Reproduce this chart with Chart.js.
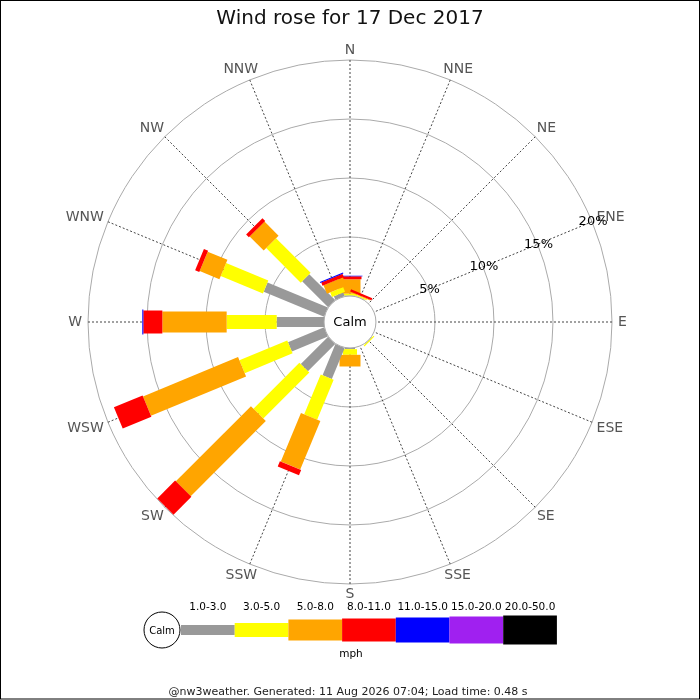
<!DOCTYPE html>
<html lang="en">
<head>
    <meta charset="UTF-8">
    <title>Wind rose for 17 Dec 2017</title>
    <script src="https://cdn.jsdelivr.net/npm/chart.js"></script>
</head>
<style>
    body {
        margin: 0;
        padding: 0;
        background-color: #FFF;
    }

    .caixa_rosa {
        width: 700px;
        height: 700px;
        position: relative;
    }
</style>
<body>
    <div class="caixa_rosa">
        <canvas id="graficoRosa" width="700" height="700"></canvas>
    </div>

<script>
    // direcoes no sentido horario a partir do N
    const direcoes = ['N', 'NNE', 'NE', 'ENE', 'E', 'ESE', 'SE', 'SSE', 'S', 'SSW', 'SW', 'WSW', 'W', 'WNW', 'NW', 'NNW'];
    const faixas = ['1.0-3.0', '3.0-5.0', '5.0-8.0', '8.0-11.0', '11.0-15.0', '15.0-20.0', '20.0-50.0'];
    const ticksPct = [5, 10, 15, 20];

    // % do tempo por direcao, uma lista por faixa de velocidade (mph)
    const vel_1_3   = [0.05, 0.03, 0, 0, 0, 0, 0.03, 0, 0.10, 2.85, 3.27, 3.31, 4.01, 5.54, 3.11, 0.34];
    const vel_3_5   = [0.15, 0.10, 0, 0, 0, 0, 0.10, 0, 0.48, 3.66, 5.51, 4.39, 4.24, 3.87, 4.14, 0.42];
    const vel_5_8   = [1.22, 0.07, 0, 0, 0, 0, 0, 0, 0.99, 4.46, 9.00, 8.72, 5.45, 1.81, 1.69, 0.77];
    const vel_8_11  = [0.25, 0.19, 0, 0, 0, 0, 0, 0, 0, 0.48, 2.14, 2.63, 1.61, 0.38, 0.33, 0.29];
    const vel_11_15 = [0.05, 0, 0, 0, 0, 0, 0, 0, 0, 0, 0, 0, 0.09, 0, 0, 0.09];
    const vel_15_20 = [0, 0, 0, 0, 0, 0, 0, 0, 0, 0, 0, 0, 0, 0, 0, 0];
    const vel_20_50 = [0, 0, 0, 0, 0, 0, 0, 0, 0, 0, 0, 0, 0, 0, 0, 0];
    const series = [vel_1_3, vel_3_5, vel_5_8, vel_8_11, vel_11_15, vel_15_20, vel_20_50];

    const cores = ['#999999', '#FFFF00', '#FFA500', '#FF0000', '#0000FF', '#A020F0', '#000000'];
    const larguras = [10, 14, 21, 23, 25, 27, 29];

    Chart.defaults.font.family = 'DejaVu Sans';
    Chart.defaults.color = '#222';

    // desenha as barras empilhadas, o circulo calmo, rotulos e legenda
    const desenhaRosa = {
        id: 'desenhaRosa',
        afterDatasetsDraw(chart) {
            const ctx = chart.ctx;
            const r = chart.scales.r;
            ctx.save();

            direcoes.forEach((d, i) => {
                let base = 0;
                series.forEach((serie, k) => {
                    const v = serie[i];
                    if (v > 0) {
                        const p0 = r.getPointPositionForValue(i, base);
                        const p1 = r.getPointPositionForValue(i, base + v);
                        ctx.beginPath();
                        ctx.lineCap = 'butt';
                        ctx.lineWidth = larguras[k];
                        ctx.strokeStyle = cores[k];
                        ctx.moveTo(p0.x, p0.y);
                        ctx.lineTo(p1.x, p1.y);
                        ctx.stroke();
                    }
                    base += v;
                });
            });

            // circulo "Calm"
            const raioCalmo = r.getDistanceFromCenterForValue(0);
            ctx.beginPath();
            ctx.arc(r.xCenter, r.yCenter, raioCalmo, 0, Math.PI * 2);
            ctx.fillStyle = '#FFF';
            ctx.fill();
            ctx.lineWidth = 1;
            ctx.strokeStyle = '#AAA';
            ctx.stroke();
            ctx.fillStyle = '#000';
            ctx.font = '13px "DejaVu Sans"';
            ctx.textAlign = 'center';
            ctx.textBaseline = 'middle';
            ctx.fillText('Calm', r.xCenter, r.yCenter + 1);

            // rotulos das direcoes, logo fora da ponta de cada linha
            ctx.fillStyle = '#555';
            ctx.font = '14px "DejaVu Sans"';
            direcoes.forEach((d, i) => {
                const ang = r.getIndexAngle(i);
                const meiaLarg = ctx.measureText(d).width / 2;
                const ponta = r.getPointPosition(i, r.drawingArea);
                const x = ponta.x + Math.sin(ang) * (meiaLarg + 6);
                const y = ponta.y - Math.cos(ang) * (10 + 4 * Math.abs(Math.sin(ang)));
                ctx.fillText(d, x, y + 0.5);
            });

            // rotulos de porcentagem ao longo do ENE
            ctx.fillStyle = '#000';
            ctx.font = '13px "DejaVu Sans"';
            ticksPct.forEach(t => {
                const p = r.getPointPositionForValue(3, t);
                ctx.fillText(t + '%', p.x + 1, p.y);
            });

            // legenda
            const cx = 162, cy = 630, largCaixa = 53.7;
            ctx.beginPath();
            ctx.arc(cx, cy, 18, 0, Math.PI * 2);
            ctx.fillStyle = '#FFF';
            ctx.fill();
            ctx.strokeStyle = '#000';
            ctx.lineWidth = 1;
            ctx.stroke();
            ctx.fillStyle = '#000';
            ctx.font = '10px "DejaVu Sans"';
            ctx.fillText('Calm', cx, cy + 1);

            ctx.font = '10.5px "DejaVu Sans"';
            faixas.forEach((f, k) => {
                const x0 = cx + 19 + k * largCaixa;
                ctx.fillStyle = cores[k];
                ctx.fillRect(x0, cy - larguras[k] / 2, largCaixa, larguras[k]);
                ctx.fillStyle = '#000';
                ctx.fillText(f, x0 + largCaixa / 2, 607);
            });
            ctx.fillText('mph', 351, 654);

            ctx.font = '11px "DejaVu Sans"';
            ctx.fillStyle = '#222';
            ctx.fillText('@nw3weather. Generated: 11 Aug 2026 07:04; Load time: 0.48 s', 348, 692);

            // moldura
            ctx.strokeStyle = '#000';
            ctx.lineWidth = 1;
            ctx.strokeRect(0.5, 0.5, 699, 698.5);
            ctx.restore();
        }
    };

    const config = {
        type: 'radar',
        data: {
            labels: direcoes,
            datasets: faixas.map((f, k) => ({
                label: f,
                data: series[k],
                showLine: false,
                fill: false,
                borderWidth: 0,
                pointRadius: 0,
                pointHoverRadius: 0,
                borderColor: 'transparent',
                backgroundColor: 'transparent'
            }))
        },
        options: {
            responsive: false,
            animation: false,
            events: [],
            layout: {
                padding: { left: 88, right: 88, top: 0, bottom: 116 }
            },
            plugins: {
                legend: { display: false },
                tooltip: { enabled: false },
                title: {
                    display: true,
                    text: 'Wind rose for 17 Dec 2017',
                    color: '#111',
                    font: { size: 20, weight: 'normal' },
                    padding: { top: 7, bottom: 29 }
                }
            },
            scales: {
                r: {
                    min: -2.2,
                    max: 20,
                    afterBuildTicks: function (scale) {
                        scale.ticks = ticksPct.map(v => ({ value: v }));
                    },
                    ticks: { display: false },
                    pointLabels: { display: false },
                    grid: { circular: true, color: '#AAA', lineWidth: 1 },
                    angleLines: { color: '#444', lineWidth: 1, borderDash: [2, 2] }
                }
            }
        },
        plugins: [desenhaRosa]
    };

    let myChart = new Chart(document.getElementById('graficoRosa'), config);
</script>
</body>
</html>
